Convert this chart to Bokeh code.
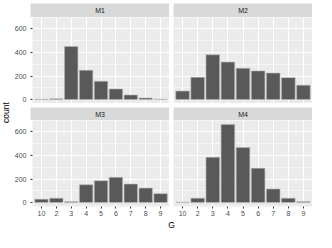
from bokeh.plotting import figure
from bokeh.layouts import row, column
from bokeh.models import (ColumnDataSource, FactorRange, Range1d, FixedTicker, Spacer)
from bokeh.core.properties import value
from bokeh.embed import file_html
from bokeh.resources import INLINE
import math

categories = ["10", "2", "3", "4", "5", "6", "7", "8", "9"]
facet_names = ["M1", "M2", "M3", "M4"]
m1 = [3, 8, 450, 248, 155, 90, 39, 13, 3]
m2 = [72, 189, 380, 318, 266, 243, 225, 186, 122]
m3 = [29, 37, 8, 151, 185, 214, 157, 123, 76]
m4 = [3, 37, 384, 663, 467, 292, 115, 37, 8]
y_ticks = [0, 200, 400, 600]
y_minor = [100, 300, 500]
x_title = "G"
y_title = "count"

FONT = "Liberation Sans"
PANEL_BG = "#EBEBEB"
STRIP_BG = "#D9D9D9"
BAR_FILL = "#595959"
YMIN, YMAX = -33, 696
AXW = 19
PH = 86      # panel frame height
XAX = 13     # x axis band height


def base_fig(w, h, left=0, bottom=0, **kw):
    f = figure(width=w, height=h, output_backend="svg", toolbar_location=None,
               min_border_left=left, min_border_right=0, min_border_top=0,
               min_border_bottom=bottom, **kw)
    f.outline_line_color = None
    f.border_fill_color = "white"
    return f


def strip(name, w, h, left):
    f = base_fig(w, h, left=left, x_range=Range1d(0, 1), y_range=Range1d(0, 1))
    f.background_fill_color = STRIP_BG
    f.axis.visible = False
    f.grid.visible = False
    f.text(x=[0.5], y=[0.5], text=[name], text_align="center", text_baseline="middle",
           text_font=value(FONT), text_font_size="7px", text_color="#1A1A1A")
    return f


def panel(vals, w, h, show_y, show_x):
    xr = FactorRange(*categories, range_padding=0.1, range_padding_units="absolute")
    f = base_fig(w, h, left=AXW if show_y else 0, bottom=XAX if show_x else 0,
                 x_range=xr, y_range=Range1d(YMIN, YMAX))
    f.background_fill_color = PANEL_BG
    src = ColumnDataSource(dict(x=categories, top=vals))
    f.vbar(x="x", top="top", bottom=0, width=0.9, source=src,
           fill_color=BAR_FILL, line_color="#B5B5B5", line_width=0.6)
    f.yaxis.ticker = FixedTicker(ticks=y_ticks, minor_ticks=y_minor)
    f.ygrid.grid_line_color = "white"
    f.ygrid.grid_line_width = 1.1
    f.ygrid.minor_grid_line_color = "white"
    f.ygrid.minor_grid_line_width = 0.55
    f.xgrid.grid_line_color = "white"
    f.xgrid.grid_line_width = 1.1
    for ax in (f.xaxis[0], f.yaxis[0]):
        ax.axis_line_color = None
        ax.major_tick_in = 0
        ax.major_tick_out = 2
        ax.major_tick_line_color = "#333333"
        ax.minor_tick_line_color = None
        ax.major_label_text_font = FONT
        ax.major_label_text_font_size = "7px"
        ax.major_label_text_color = "#4D4D4D"
        ax.major_label_standoff = 2
    f.xaxis.visible = show_x
    f.yaxis.visible = show_y
    return f


LW = AXW + 139
RW = 139
GAP = 4
TOTW = LW + GAP + RW

s1 = strip(facet_names[0], LW, 14, AXW)
s2 = strip(facet_names[1], RW, 14, 0)
p1 = panel(m1, LW, PH, True, False)
p2 = panel(m2, RW, PH, False, False)
s3 = strip(facet_names[2], LW, 13, AXW)
s4 = strip(facet_names[3], RW, 13, 0)
p3 = panel(m3, LW, PH + XAX, True, True)
p4 = panel(m4, RW, PH + XAX, False, True)

# x title
gx = base_fig(TOTW, 13, left=AXW, x_range=Range1d(0, 1), y_range=Range1d(0, 1))
gx.axis.visible = False
gx.grid.visible = False
gx.background_fill_color = "white"
gx.text(x=[0.5], y=[0.55], text=[x_title], text_align="center", text_baseline="middle",
        text_font=value(FONT), text_font_size="8.5px", text_color="black")

# y title
gy = base_fig(11, 232, x_range=Range1d(0, 11), y_range=Range1d(0, 232))
gy.axis.visible = False
gy.grid.visible = False
gy.background_fill_color = "white"
gy.text(x=[5.5], y=[232 - 112], text=[y_title], angle=math.pi / 2,
        text_align="center", text_baseline="middle",
        text_font=value(FONT), text_font_size="8.5px", text_color="black")

block = column(
    Spacer(width=TOTW, height=3),
    row(s1, Spacer(width=GAP, height=14), s2),
    row(p1, Spacer(width=GAP, height=PH), p2),
    Spacer(width=TOTW, height=4),
    row(s3, Spacer(width=GAP, height=13), s4),
    row(p3, Spacer(width=GAP, height=PH + XAX), p4),
    gx,
)
layout = row(gy, block)

open("out.html", "w").write(file_html(layout, INLINE))
